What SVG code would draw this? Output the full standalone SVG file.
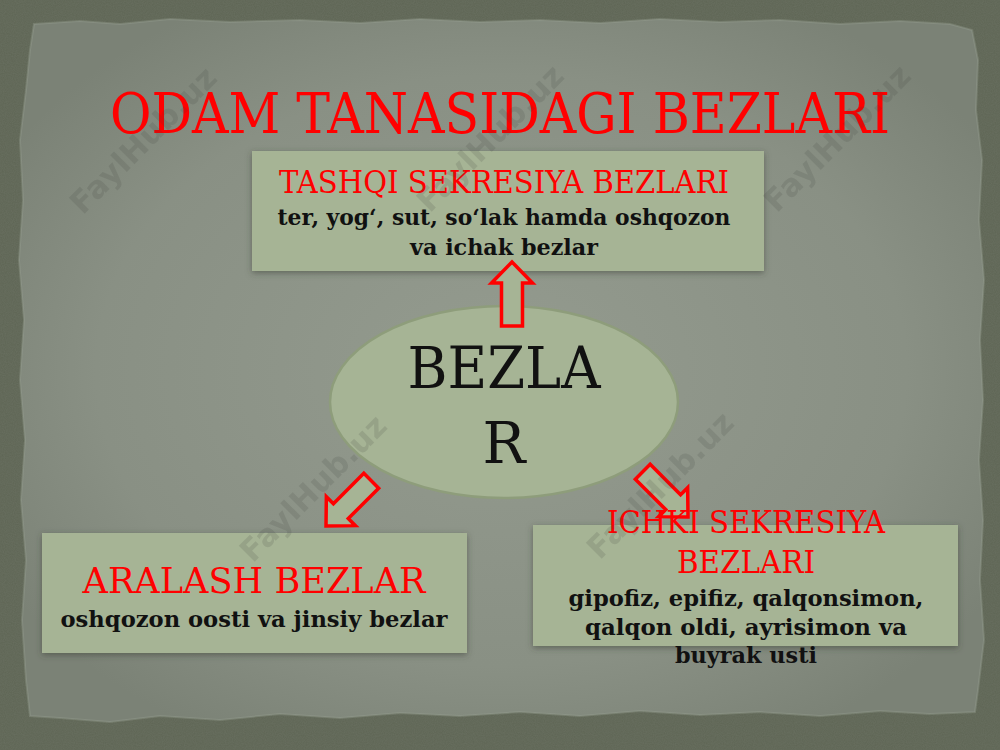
<svg xmlns="http://www.w3.org/2000/svg" width="1000" height="750" viewBox="0 0 1000 750">
  <defs>
    <radialGradient id="paperGrad" cx="50%" cy="50%" r="60%">
      <stop offset="0%" stop-color="#949b8f"/>
      <stop offset="70%" stop-color="#899084"/>
      <stop offset="100%" stop-color="#7b8276"/>
    </radialGradient>
    <filter id="noise" x="0" y="0" width="100%" height="100%">
      <feTurbulence type="fractalNoise" baseFrequency="0.9" numOctaves="2" seed="3" result="n"/>
      <feColorMatrix type="matrix" values="0 0 0 0 0.2  0 0 0 0 0.22  0 0 0 0 0.18  0 0 0 0.35 0" in="n"/>
    </filter>
    <filter id="shadow" x="-10%" y="-20%" width="120%" height="140%">
      <feDropShadow dx="0" dy="2" stdDeviation="3" flood-color="#3a4034" flood-opacity="0.55"/>
    </filter>
    <path id="arrow" d="M0,0 L20.5,21 L10.5,21 L10.5,64 L-10.5,64 L-10.5,21 L-20.5,21 Z"/>
  </defs>
  <style>
    .box { fill: #a6b495; filter: url(#shadow); }
    .ell { fill: #a6b495; stroke: #8e9d7b; stroke-width: 2.5; }
    .red { fill: #ff0000; font-family: "DejaVu Serif", "Liberation Serif", serif; text-anchor: middle; }
    .blk { fill: #111111; font-family: "DejaVu Serif", "Liberation Serif", serif; font-weight: bold; text-anchor: middle; }
    .big { fill: #111111; font-family: "DejaVu Serif", "Liberation Serif", serif; text-anchor: middle; }
    .arr { fill: #a6b495; stroke: #ff0000; stroke-width: 3.5; stroke-linejoin: miter; }
    .wm { fill: #3a3d38; opacity: 0.14; font-family: "DejaVu Sans", "Liberation Sans", sans-serif; font-weight: bold; font-size: 31px; text-anchor: middle; }
  </style>

  <!-- background border -->
  <rect x="0" y="0" width="1000" height="750" fill="#5e6554"/>
  <rect x="0" y="0" width="1000" height="750" filter="url(#noise)"/>

  <!-- paper -->
  <path id="paper" fill="url(#paperGrad)" stroke="#9ca294" stroke-width="2" stroke-opacity="0.35" d="M34,24 L80,21 L120,24 L170,19 L230,22 L300,20 L360,23 L420,19 L480,22 L540,20 L600,23 L660,19 L720,22 L780,20 L840,24 L900,21 L950,24 L972,30 L978,60 L976,110 L982,160 L979,220 L984,280 L980,340 L983,400 L979,460 L983,520 L980,580 L984,640 L978,690 L975,712 L930,714 L880,711 L820,716 L760,712 L700,715 L640,711 L580,716 L520,712 L460,716 L400,713 L340,718 L280,714 L220,720 L160,716 L110,722 L60,718 L30,716 L26,680 L22,620 L26,560 L21,500 L25,440 L20,380 L24,320 L19,260 L23,200 L20,140 L26,90 L30,50 Z"/>

  <!-- title -->
  <text id="title" x="500" y="133" class="red" font-size="56" textLength="780" lengthAdjust="spacingAndGlyphs">ODAM TANASIDAGI BEZLARI</text>

  <!-- top node -->
  <g id="node-tashqi">
    <rect class="box" x="252" y="151" width="512" height="120"/>
    <text x="504" y="193" class="red" font-size="32" textLength="450" lengthAdjust="spacingAndGlyphs">TASHQI SEKRESIYA BEZLARI</text>
    <text x="504" y="225" class="blk" font-size="23" textLength="453" lengthAdjust="spacingAndGlyphs">ter, yog‘, sut, so‘lak hamda oshqozon</text>
    <text x="504" y="255" class="blk" font-size="23" textLength="188" lengthAdjust="spacingAndGlyphs">va ichak bezlar</text>
  </g>

  <!-- center node -->
  <g id="node-bezlar">
    <ellipse class="ell" cx="504" cy="402" rx="174" ry="96"/>
    <text x="504" y="388" class="big" font-size="57" textLength="193" lengthAdjust="spacingAndGlyphs">BEZLA</text>
    <text x="504" y="463" class="big" font-size="57">R</text>
  </g>

  <!-- left node -->
  <g id="node-aralash">
    <rect class="box" x="42" y="533" width="425" height="120"/>
    <text x="254" y="593" class="red" font-size="36" textLength="343" lengthAdjust="spacingAndGlyphs">ARALASH BEZLAR</text>
    <text x="254" y="627" class="blk" font-size="23" textLength="387" lengthAdjust="spacingAndGlyphs">oshqozon oosti va jinsiy bezlar</text>
  </g>

  <!-- connectors -->
  <g id="connectors">
    <use href="#arrow" class="arr" transform="translate(512,262)"/>
    <use href="#arrow" class="arr" transform="translate(326,526) rotate(-135)"/>
    <use href="#arrow" class="arr" transform="translate(688,517) rotate(135)"/>
  </g>

  <!-- right node -->
  <g id="node-ichki">
    <rect class="box" x="533" y="525" width="425" height="121"/>
    <text x="746" y="533" class="red" font-size="32" textLength="278" lengthAdjust="spacingAndGlyphs">ICHKI SEKRESIYA</text>
    <text x="746" y="573" class="red" font-size="32" textLength="138" lengthAdjust="spacingAndGlyphs">BEZLARI</text>
    <text x="746" y="606" class="blk" font-size="23" textLength="355" lengthAdjust="spacingAndGlyphs">gipofiz, epifiz, qalqonsimon,</text>
    <text x="746" y="635" class="blk" font-size="23" textLength="322" lengthAdjust="spacingAndGlyphs">qalqon oldi, ayrisimon va</text>
    <text x="746" y="663" class="blk" font-size="23" textLength="142" lengthAdjust="spacingAndGlyphs">buyrak usti</text>
  </g>

  <!-- watermarks -->
  <g id="watermarks">
    <text class="wm" transform="translate(143,140) rotate(-45)" y="11">FaylHub.uz</text>
    <text class="wm" transform="translate(490,138) rotate(-45)" y="11">FaylHub.uz</text>
    <text class="wm" transform="translate(837,138) rotate(-45)" y="11">FaylHub.uz</text>
    <text class="wm" transform="translate(313,488) rotate(-45)" y="11">FaylHub.uz</text>
    <text class="wm" transform="translate(660,485) rotate(-45)" y="11">FaylHub.uz</text>
  </g>
</svg>
